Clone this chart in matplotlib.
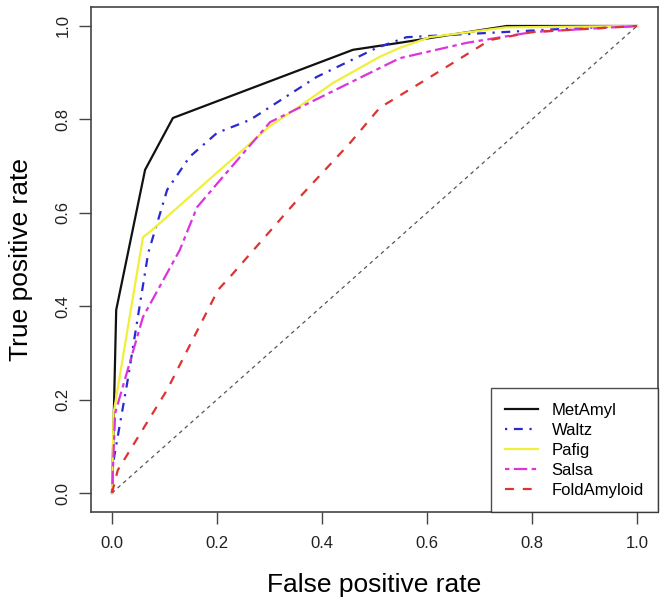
import matplotlib
matplotlib.use("Agg")
import matplotlib.pyplot as plt
from matplotlib import font_manager

names = {f.name for f in font_manager.fontManager.ttflist}
FONT = "Liberation Sans" if "Liberation Sans" in names else "DejaVu Sans"
plt.rcParams["font.family"] = [FONT, "DejaVu Sans"]

# ---- data ----
metamyl_fpr = [0.0, 0.008, 0.063, 0.116, 0.459, 0.548, 0.752, 1.0]
metamyl_tpr = [0.0, 0.392, 0.692, 0.803, 0.949, 0.964, 1.0, 1.0]

waltz_fpr = [0.0, 0.002, 0.029, 0.069, 0.105, 0.148, 0.2, 0.263, 0.39, 0.504, 0.561, 0.714, 0.896, 1.0]
waltz_tpr = [0.0, 0.064, 0.236, 0.514, 0.649, 0.72, 0.771, 0.799, 0.891, 0.953, 0.976, 0.985, 0.996, 1.0]

pafig_fpr = [0.0, 0.003, 0.059, 0.072, 0.206, 0.30, 0.352, 0.421, 0.51, 0.548, 0.605, 0.75, 1.0]
pafig_tpr = [0.0, 0.171, 0.548, 0.559, 0.692, 0.785, 0.824, 0.878, 0.934, 0.953, 0.976, 0.997, 1.0]

salsa_fpr = [0.0, 0.006, 0.059, 0.129, 0.162, 0.206, 0.301, 0.548, 0.676, 0.801, 1.0]
salsa_tpr = [0.0, 0.171, 0.377, 0.52, 0.612, 0.67, 0.794, 0.931, 0.964, 0.987, 1.0]

fold_fpr = [0.0, 0.011, 0.105, 0.202, 0.225, 0.358, 0.453, 0.51, 0.605, 0.72, 0.801, 1.0]
fold_tpr = [0.0, 0.049, 0.221, 0.435, 0.463, 0.634, 0.749, 0.825, 0.89, 0.97, 0.987, 1.0]

series_names = ["MetAmyl", "Waltz", "Pafig", "Salsa", "FoldAmyloid"]
ticks = [0.0, 0.2, 0.4, 0.6, 0.8, 1.0]
tick_labels = ["0.0", "0.2", "0.4", "0.6", "0.8", "1.0"]

# ---- figure ----
W, H = 666, 603
fig = plt.figure(figsize=(W / 100, H / 100), dpi=100)
ax = fig.add_axes([91 / W, 1 - 511.7 / H, (658 - 91) / W, (511.7 - 7.3) / H])

lw = 1.6
ax.plot([0, 1], [0, 1], color="#555555", lw=0.9, linestyle=(0, (3, 3)), zorder=1)
ax.plot(metamyl_fpr, metamyl_tpr, color="#111111", lw=lw, label=series_names[0], zorder=3)
ax.plot(waltz_fpr, waltz_tpr, color="#2a2ad0", lw=lw, linestyle=(0, (1, 3, 4, 3)), label=series_names[1], zorder=3)
ax.plot(pafig_fpr, pafig_tpr, color="#f0f03a", lw=lw, label=series_names[2], zorder=3)
ax.plot(salsa_fpr, salsa_tpr, color="#dd33dd", lw=lw, linestyle=(0, (2, 2, 6, 2)), label=series_names[3], zorder=3)
ax.plot(fold_fpr, fold_tpr, color="#dd3333", lw=lw, linestyle=(0, (4, 4)), label=series_names[4], zorder=3)

ax.set_xlim(-0.04, 1.04)
ax.set_ylim(-0.04, 1.04)
ax.set_xticks(ticks)
ax.set_xticklabels(tick_labels)
ax.set_yticks(ticks)
ax.set_yticklabels(tick_labels, rotation=90, va="center")
ax.tick_params(axis="both", length=8.5, width=1.0, color="#444444", labelsize=12,
               labelcolor="#222222")
ax.tick_params(axis="x", pad=9)
ax.tick_params(axis="y", pad=6)
for s in ax.spines.values():
    s.set_color("#444444")
    s.set_linewidth(1.2)

ax.set_xlabel("False positive rate", fontsize=19, va="center")
ax.xaxis.set_label_coords(0.5, -0.145)
ax.set_ylabel("True positive rate", fontsize=19, va="center")
ax.yaxis.set_label_coords(-0.1235, 0.5)

leg = ax.legend(loc="lower right", bbox_to_anchor=(1, 0), borderaxespad=0,
                fontsize=12, frameon=True, fancybox=False, handlelength=2.0,
                handletextpad=0.8, labelspacing=0.3, borderpad=0.85)
leg.get_frame().set_edgecolor("#222222")
leg.get_frame().set_linewidth(1.0)

fig.savefig("out.png", dpi=100)
